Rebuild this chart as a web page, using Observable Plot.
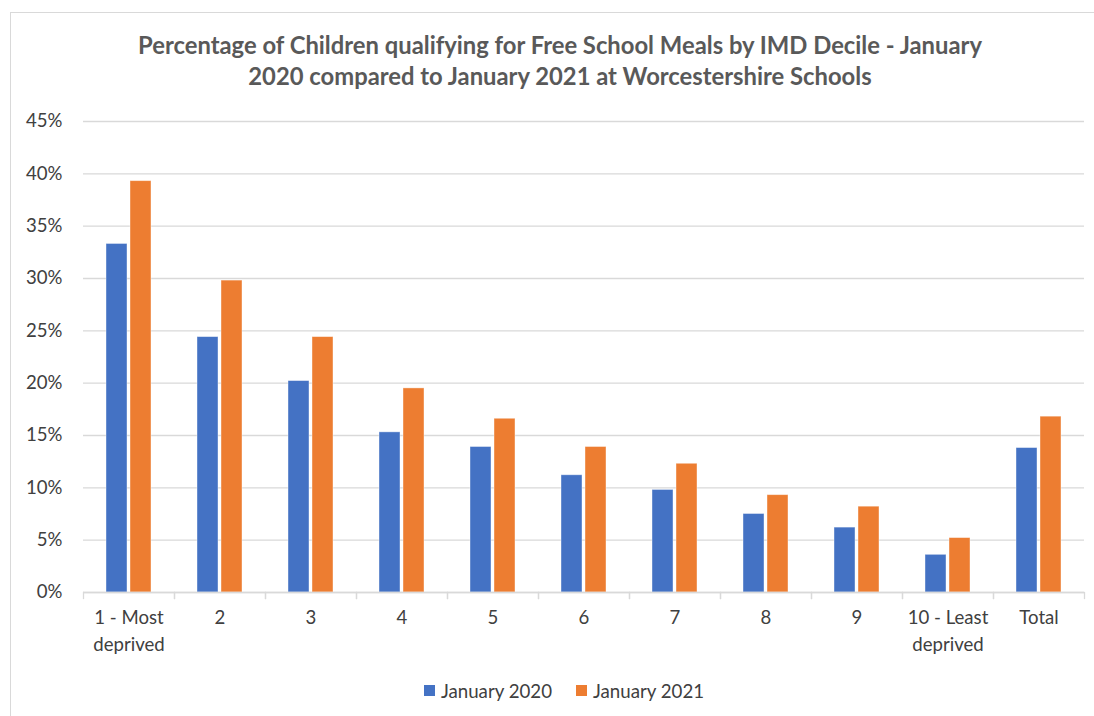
<!DOCTYPE html>
<html>
<head>
<meta charset="utf-8">
<script src="https://cdn.jsdelivr.net/npm/d3@7"></script>
<script src="https://cdn.jsdelivr.net/npm/@observablehq/plot@0.6"></script>
<style>
  html, body { margin: 0; padding: 0; background: #fff; }
  body { width: 1094px; height: 716px; position: relative; overflow: hidden; font-family: Lato, "Open Sans", sans-serif; }
  .box { position: absolute; left: 10px; top: 12px; width: 1200px; height: 800px; border: 1px solid #d9d9d9; box-sizing: border-box; }
  .title { position: absolute; left: 0; width: 1120px; top: 30px; text-align: center; font-weight: bold; font-size: 23.8px; line-height: 31px; color: #595959; }
  #chart { position: absolute; left: 0; top: 100px; }
  .legend { position: absolute; left: 0; width: 1128px; top: 678px; text-align: center; font-size: 18.7px; color: #404040; }
  .legend span.item { display: inline-flex; align-items: center; margin: 0 12px; }
  .legend span.sw { display: inline-block; width: 11px; height: 11px; margin-right: 6px; }
</style>
</head>
<body>
<div class="box"></div>
<div class="title">Percentage of Children qualifying for Free School Meals by IMD Decile - January<br>2020 compared to January 2021 at Worcestershire Schools</div>
<div id="chart"></div>
<div class="legend" id="legend"></div>
<script>
// IMD deciles plus the overall total
const categories = ["1 - Most deprived", "2", "3", "4", "5", "6", "7", "8", "9", "10 - Least deprived", "Total"];
const tickLabels = ["1 - Most\ndeprived", "2", "3", "4", "5", "6", "7", "8", "9", "10 - Least\ndeprived", "Total"];
const seriesNames = ["January 2020", "January 2021"];
const seriesColors = ["#4472c4", "#ed7d31"];
// Percentage of pupils eligible for free school meals
const jan2020 = [33.3, 24.4, 20.2, 15.3, 13.9, 11.2, 9.8, 7.5, 6.2, 3.6, 13.8];
const jan2021 = [39.3, 29.8, 24.4, 19.5, 16.6, 13.9, 12.3, 9.3, 8.2, 5.2, 16.8];
const yTicks = [0, 5, 10, 15, 20, 25, 30, 35, 40, 45];

const rows = [];
categories.forEach((c, i) => {
  rows.push({category: c, series: seriesNames[0], value: jan2020[i]});
  rows.push({category: c, series: seriesNames[1], value: jan2021[i]});
});

const H = 560, MT = 21, MB = 68;
const plotHeight = H - MT - MB;
const grid = "#d9d9d9";
const labelMap = new Map(categories.map((c, i) => [c, tickLabels[i]]));

const chart = Plot.plot({
  width: 1094,
  height: H,
  marginLeft: 81,
  marginRight: 9,
  marginTop: MT,
  marginBottom: MB,
  style: {fontFamily: "Lato, 'Open Sans', sans-serif", fontSize: "18.6px", color: "#404040", background: "transparent"},
  fx: {domain: categories, padding: 0, label: null},
  x: {domain: seriesNames, paddingInner: 0.12, paddingOuter: 0.93, axis: null},
  y: {domain: [0, 45], ticks: yTicks, label: null},
  color: {domain: seriesNames, range: seriesColors},
  marks: [
    Plot.gridY(yTicks, {stroke: grid, strokeOpacity: 1, strokeWidth: 1.3}),
    Plot.axisY(yTicks, {tickSize: 0, tickPadding: 21, tickFormat: d => `${d}%`, label: null}),
    Plot.axisFx({anchor: "bottom", tickSize: 0, tickPadding: 13, lineHeight: 1.42, tickFormat: d => labelMap.get(d), label: null}),
    Plot.barY(rows, {fx: "category", x: "series", y: "value", fill: "series", stroke: "white", strokeOpacity: 0.5, strokeWidth: 0.8}),
    Plot.ruleY([0], {stroke: grid, strokeWidth: 1.3}),
    Plot.frame({anchor: "left", stroke: grid, strokeWidth: 1.3, insetTop: plotHeight, insetBottom: -6}),
    Plot.frame({anchor: "right", stroke: grid, strokeWidth: 1.3, insetTop: plotHeight, insetBottom: -6})
  ]
});
document.getElementById("chart").appendChild(chart);

const legend = document.getElementById("legend");
seriesNames.forEach((name, i) => {
  const item = document.createElement("span");
  item.className = "item";
  const sw = document.createElement("span");
  sw.className = "sw";
  sw.style.background = seriesColors[i];
  item.appendChild(sw);
  item.appendChild(document.createTextNode(name));
  legend.appendChild(item);
});
</script>
</body>
</html>
